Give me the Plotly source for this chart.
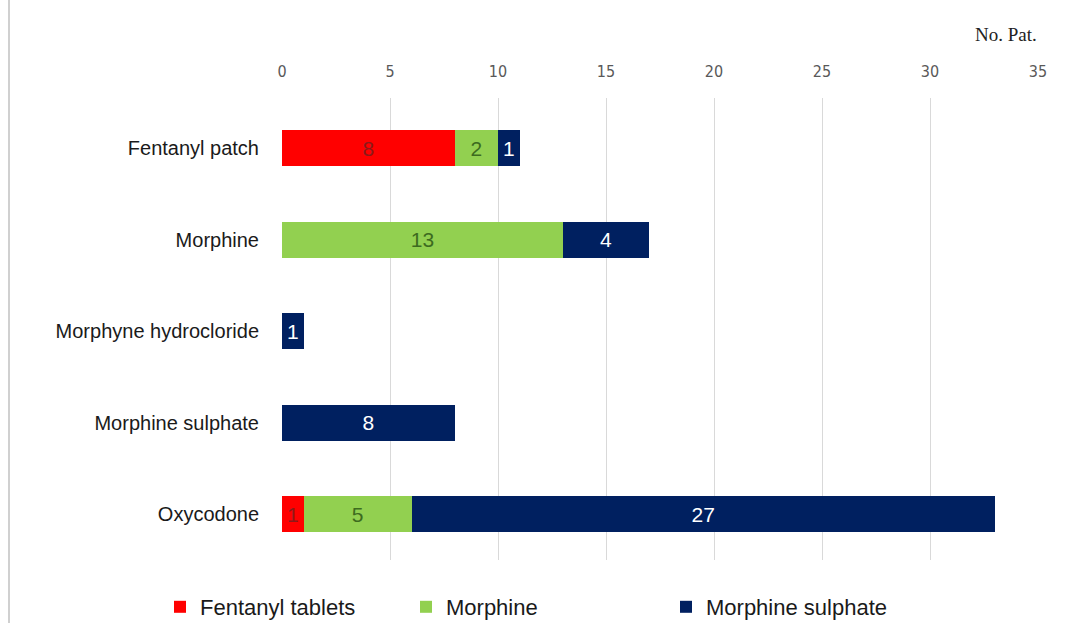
import plotly.graph_objects as go

# Opioid switching: number of patients per original drug, split by new drug
categories = ["Fentanyl patch", "Morphine", "Morphyne hydrocloride", "Morphine sulphate", "Oxycodone"]
fentanyl_tablets = [8, 0, 0, 0, 1]
morphine = [2, 13, 0, 0, 5]
morphine_sulphate = [1, 4, 1, 8, 27]
x_ticks = [0, 5, 10, 15, 20, 25, 30, 35]

series = [
    ("Fentanyl tablets", fentanyl_tablets, "#FF0000", "#8B1A1A", "legend"),
    ("Morphine", morphine, "#92D050", "#3D6B1F", "legend2"),
    ("Morphine sulphate", morphine_sulphate, "#002060", "#FFFFFF", "legend3"),
]

fig = go.Figure()
for name, vals, color, txtcolor, leg in series:
    fig.add_trace(go.Bar(
        y=categories,
        x=[v if v else None for v in vals],
        name=name,
        orientation="h",
        marker=dict(color=color, line=dict(width=0)),
        text=[str(v) if v else "" for v in vals],
        textposition="inside",
        insidetextanchor="middle",
        constraintext="none",
        textfont=dict(family="Arial, Liberation Sans", size=21, color=txtcolor),
        legend=leg,
        showlegend=True,
    ))

L, R, T, B = 282, 27, 98, 63
W, H = 1065, 623
pw, ph = W - L - R, H - T - B

def px_x(p):
    return (p - L) / pw

def px_y(p):
    return (H - B - p) / ph

legend_common = dict(
    orientation="h",
    xref="container",
    yref="container",
    yanchor="middle",
    xanchor="left",
    bgcolor="rgba(0,0,0,0)",
    font=dict(family="Arial, Liberation Sans", size=22, color="#1a1a1a"),
)
leg_y = 1 - 607 / H

fig.update_layout(
    width=W,
    height=H,
    margin=dict(l=L, r=R, t=T, b=B, autoexpand=False),
    paper_bgcolor="white",
    plot_bgcolor="white",
    barmode="stack",
    bargap=0.61,
    showlegend=True,
    legend=dict(x=160 / W, y=leg_y, **legend_common),
    legend2=dict(x=406 / W, y=leg_y, **legend_common),
    legend3=dict(x=666 / W, y=leg_y, **legend_common),
    xaxis=dict(
        side="top",
        range=[0, 35],
        tickvals=x_ticks,
        ticktext=[str(t) for t in x_ticks],
        showgrid=True,
        gridcolor="#D9D9D9",
        gridwidth=1,
        zeroline=False,
        showline=False,
        ticks="",
        ticklabelstandoff=17,
        tickfont=dict(family="Liberation Sans Narrow, DejaVu Sans Condensed", size=16, color="#595959"),
    ),
    yaxis=dict(
        categoryorder="array",
        categoryarray=categories,
        range=[4.5, -0.55],
        showgrid=False,
        zeroline=False,
        showline=False,
        ticks="",
        ticklabelstandoff=22,
        tickfont=dict(family="Arial, Liberation Sans", size=20, color="#1a1a1a"),
    ),
    annotations=[
        dict(
            text="No. Pat.",
            xref="paper", yref="paper",
            x=px_x(1006), y=px_y(35),
            xanchor="center", yanchor="middle",
            showarrow=False,
            font=dict(family="Liberation Serif, DejaVu Serif", size=19, color="#222222"),
        )
    ],
    shapes=[
        dict(
            type="line", xref="paper", yref="paper",
            x0=px_x(9), x1=px_x(9), y0=px_y(H + 5), y1=px_y(-5),
            line=dict(color="#D0D0D0", width=2),
        )
    ],
)

fig.write_html("out.html")
